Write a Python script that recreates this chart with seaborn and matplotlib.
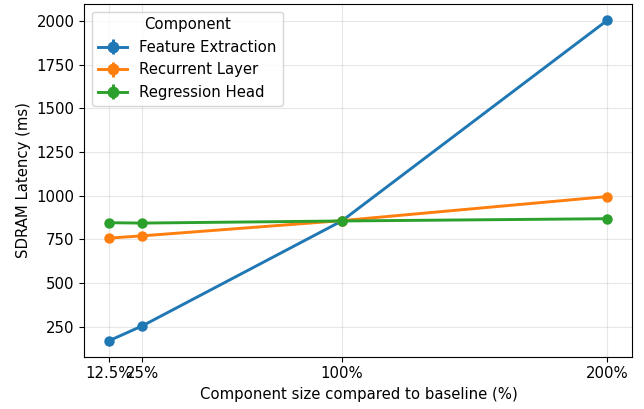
import numpy as np
import pandas as pd
import matplotlib
matplotlib.use("Agg")
import matplotlib.pyplot as plt
import seaborn as sns

# component size relative to baseline (%)
sizes = [12.5, 25, 100, 200]
size_labels = ["12.5%", "25%", "100%", "200%"]

feature_extraction = [170, 255, 855, 2005]
recurrent_layer = [757, 770, 857, 995]
regression_head = [845, 843, 855, 868]

components = ["Feature Extraction", "Recurrent Layer", "Regression Head"]
colors = ["#1f77b4", "#ff7f0e", "#2ca02c"]

df = pd.DataFrame({
    "size": sizes * 3,
    "latency": feature_extraction + recurrent_layer + regression_head,
    "Component": np.repeat(components, len(sizes)),
})

plt.rcParams["font.size"] = 10.7

fig, ax = plt.subplots(figsize=(6.44, 4.09), dpi=100)
fig.subplots_adjust(left=0.131, right=0.982, top=0.99, bottom=0.128)

sns.lineplot(data=df, x="size", y="latency", hue="Component",
             palette=colors, marker="o", markersize=7.5, markeredgewidth=0,
             linewidth=2.1, legend=False, ax=ax)

# legend entries drawn as errorbar handles (like the original)
for name, c in zip(components, colors):
    ax.errorbar([], [], yerr=[], color=c, marker="o", markersize=7.5,
                linewidth=2.1, capsize=3.5, label=name)

ax.set_xticks(sizes)
ax.set_xticklabels(size_labels)
ax.set_xlabel("Component size compared to baseline (%)")
ax.set_ylabel("SDRAM Latency (ms)")
ax.grid(True, alpha=0.3)
ax.legend(title="Component", loc="upper left")

plt.savefig("out.png", dpi=100)
plt.close()
